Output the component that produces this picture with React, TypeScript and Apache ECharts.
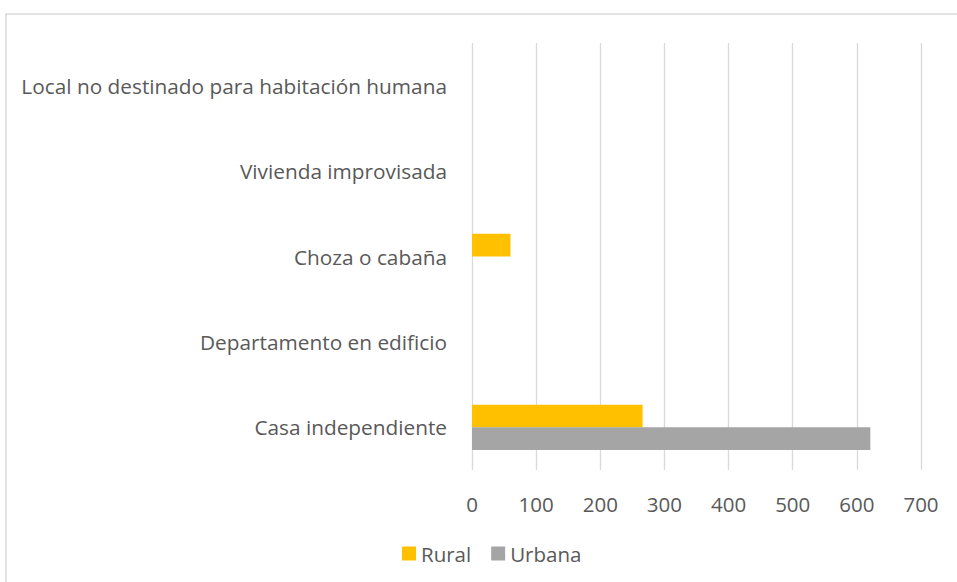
import React, { useEffect, useRef } from "react";
import * as echarts from "echarts";

const categories = [
  "Casa independiente",
  "Departamento en edificio",
  "Choza o cabaña",
  "Vivienda improvisada",
  "Local no destinado para habitación humana",
];
const seriesNames = ["Rural", "Urbana"];
const ruralValues = [266, 0, 60, 0, 0];
const urbanaValues = [621, 0, 0, 0, 0];
const xTicks = { min: 0, max: 700, interval: 100 };

const FONT = "'Open Sans', 'Noto Sans', sans-serif";
const TEXT = "#595959";

export default function App() {
  const ref = useRef<HTMLDivElement>(null);
  useEffect(() => {
    if (!ref.current) return;
    const chart = echarts.init(ref.current, undefined, { renderer: "svg" });
    chart.setOption({
      animation: false,
      backgroundColor: "#ffffff",
      graphic: [
        {
          type: "rect",
          shape: { x: 6, y: 14, width: 1000, height: 1000 },
          style: { fill: "none", stroke: "#D9D9D9", lineWidth: 1.5 },
          silent: true,
        },
      ],
      grid: { left: 472, right: 36, top: 43, bottom: 112, containLabel: false },
      legend: {
        data: seriesNames,
        top: 538,
        left: 397,
        icon: "rect",
        itemWidth: 14,
        itemHeight: 14,
        itemGap: 20,
        textStyle: { color: TEXT, fontSize: 20.5, fontFamily: FONT },
      },
      xAxis: {
        type: "value",
        min: xTicks.min,
        max: xTicks.max,
        interval: xTicks.interval,
        axisLine: { show: false },
        axisTick: { show: false },
        splitLine: { lineStyle: { color: "#D9D9D9", width: 1.3 } },
        axisLabel: { color: TEXT, fontSize: 20.5, fontFamily: FONT, margin: 23 },
      },
      yAxis: {
        type: "category",
        data: categories,
        axisLine: { show: false },
        axisTick: { show: false },
        axisLabel: { color: TEXT, fontSize: 20.8, fontFamily: FONT, margin: 25 },
      },
      series: [
        {
          name: "Rural",
          type: "bar",
          data: ruralValues,
          itemStyle: { color: "#FFC000" },
          barGap: "0%",
          barCategoryGap: "47%",
        },
        {
          name: "Urbana",
          type: "bar",
          data: urbanaValues,
          itemStyle: { color: "#A5A5A5" },
          barGap: "0%",
          barCategoryGap: "47%",
        },
      ],
    });
    return () => chart.dispose();
  }, []);
  return (
    <div
      ref={ref}
      style={{ position: "fixed", left: 0, top: 0, width: 957, height: 582 }}
    />
  );
}
